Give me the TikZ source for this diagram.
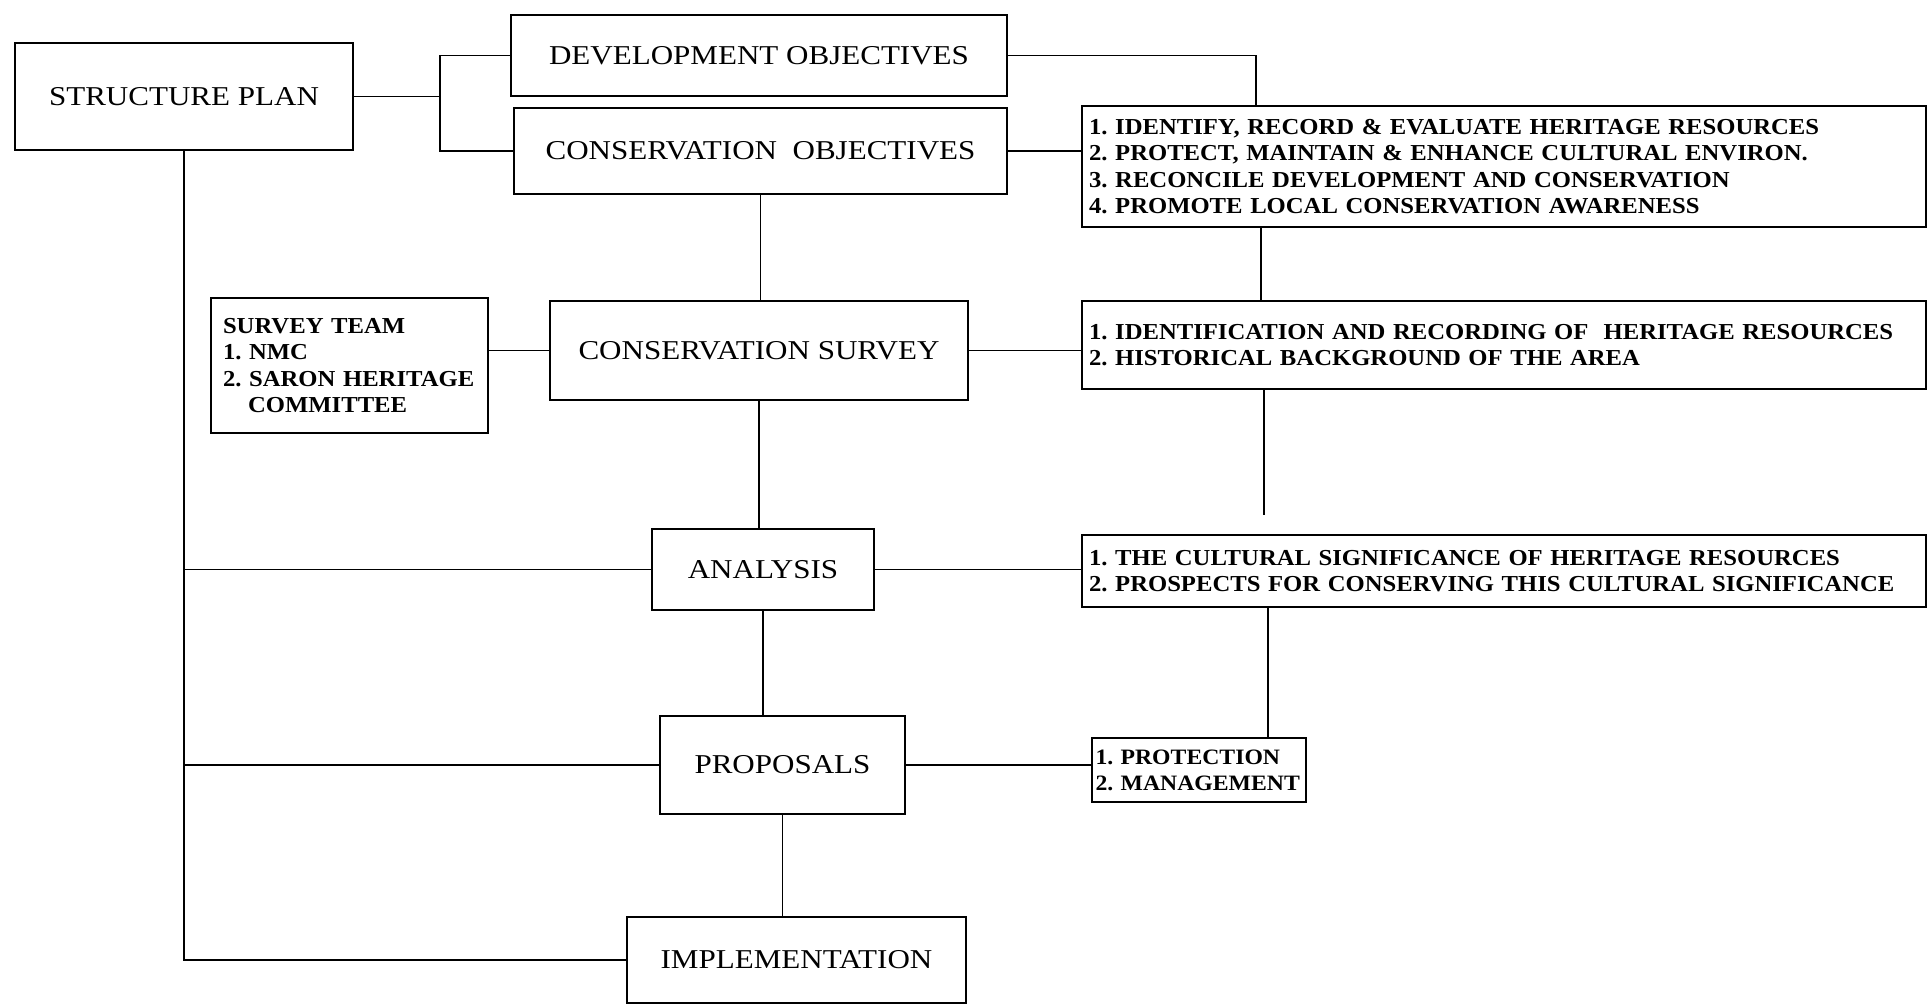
\documentclass[tikz,border=0pt]{standalone}
\usepackage{fontspec}
\setmainfont{Liberation Serif}
\newfontfamily\boxfont[FakeStretch=1.14]{Liberation Serif}
\newfontfamily\listfont[FakeStretch=1.08]{Liberation Serif}
\frenchspacing

\tikzset{
  stagebox/.style={draw, line width=1.1pt, inner sep=0pt, font=\boxfont\fontsize{15.5}{18}\selectfont},
  listbox/.style={draw, line width=1.1pt, align=left, inner xsep=0.14cm, inner ysep=0pt,
    font=\listfont\bfseries\fontsize{13}{14.9}\selectfont},
  link/.style={line width=0.9pt}
}

\begin{document}
\begin{tikzpicture}[x=0.02cm, y=-0.02cm]
        \useasboundingbox (0,0) rectangle (1928,1005);
        \node[stagebox, minimum width=6.76cm, minimum height=2.14cm] (sp) at (184,96.5) {STRUCTURE PLAN};
        \node[stagebox, minimum width=9.92cm, minimum height=1.62cm] (dev) at (759,55.5) {DEVELOPMENT OBJECTIVES};
        \node[stagebox, minimum width=9.86cm, minimum height=1.72cm] (cons) at (760.5,151) {CONSERVATION\ \ OBJECTIVES};
        \node[stagebox, minimum width=8.36cm, minimum height=1.98cm] (survey) at (759,350.5) {CONSERVATION SURVEY};
        \node[stagebox, minimum width=4.44cm, minimum height=1.62cm] (analysis) at (763,569.5) {ANALYSIS};
        \node[stagebox, minimum width=4.9cm, minimum height=1.96cm] (proposals) at (782.5,765) {PROPOSALS};
        \node[stagebox, minimum width=6.78cm, minimum height=1.72cm] (impl) at (796.5,960) {IMPLEMENTATION};

        \node[listbox, text width=16.6cm, minimum height=2.42cm] (objlist) at (1504,166.5)
        {1. IDENTIFY, RECORD \& EVALUATE HERITAGE RESOURCES\\
         2. PROTECT, MAINTAIN \& ENHANCE CULTURAL ENVIRON.\\
         3. RECONCILE DEVELOPMENT AND CONSERVATION\\
         4. PROMOTE LOCAL CONSERVATION AWARENESS};
        \node[listbox, text width=16.6cm, minimum height=1.76cm] (surveylist) at (1504,345)
        {1. IDENTIFICATION AND RECORDING OF\ \ HERITAGE RESOURCES\\
         2. HISTORICAL BACKGROUND OF THE AREA};
        \node[listbox, text width=16.6cm, minimum height=1.44cm] (anlist) at (1504,571)
        {1. THE CULTURAL SIGNIFICANCE OF HERITAGE RESOURCES\\
         2. PROSPECTS FOR CONSERVING THIS CULTURAL SIGNIFICANCE};
        \node[listbox, text width=4.14cm, inner xsep=0.07cm, minimum height=1.28cm,
          font=\listfont\bfseries\fontsize{12.5}{14.9}\selectfont] (proplist) at (1199,770)
        {1. PROTECTION\\ 2. MANAGEMENT};
        \node[listbox, text width=5.06cm, inner xsep=0.24cm, minimum height=2.7cm] (team) at (349.5,365.5)
        {SURVEY TEAM\\ 1. NMC\\ 2. SARON HERITAGE\\ \hspace*{1.1em}COMMITTEE};

        \draw[link] (sp.east) -- ++(86,0) coordinate (fork);
        \draw[link] (dev.west) -| (fork) |- (cons.west);
        \draw[link] (dev.east) -| ([xshift=3.5cm]objlist.north west);
        \draw[link] (cons.east) -- (cons.east -| objlist.west);
        \draw[link] ([xshift=3.6cm]objlist.south west) -- ([xshift=3.6cm]surveylist.north west);
        \draw[link] (cons.south) -- (cons.south |- survey.north);
        \draw[link] (survey.west -| team.east) -- (survey.west);
        \draw[link] (survey.east) -- (survey.east -| surveylist.west);
        \draw[link, shorten >=0.38cm] ([xshift=3.66cm]surveylist.south west) -- ([xshift=3.66cm]anlist.north west);
        \draw[link] (survey.south) -- (survey.south |- analysis.north);
        \draw[link] (sp.south) |- (impl.west);
        \draw[link] (analysis.west) -- (analysis.west -| sp.south);
        \draw[link] (analysis.east) -- (analysis.east -| anlist.west);
        \draw[link] ([xshift=3.74cm]anlist.south west) -- ([xshift=3.74cm]anlist.south west |- proplist.north);
        \draw[link] (analysis.south) -- (analysis.south |- proposals.north);
        \draw[link] (proposals.west) -- (proposals.west -| sp.south);
        \draw[link] (proposals.east) -- (proposals.east -| proplist.west);
        \draw[link] (proposals.south) -- (proposals.south |- impl.north);
\end{tikzpicture}
\end{document}
